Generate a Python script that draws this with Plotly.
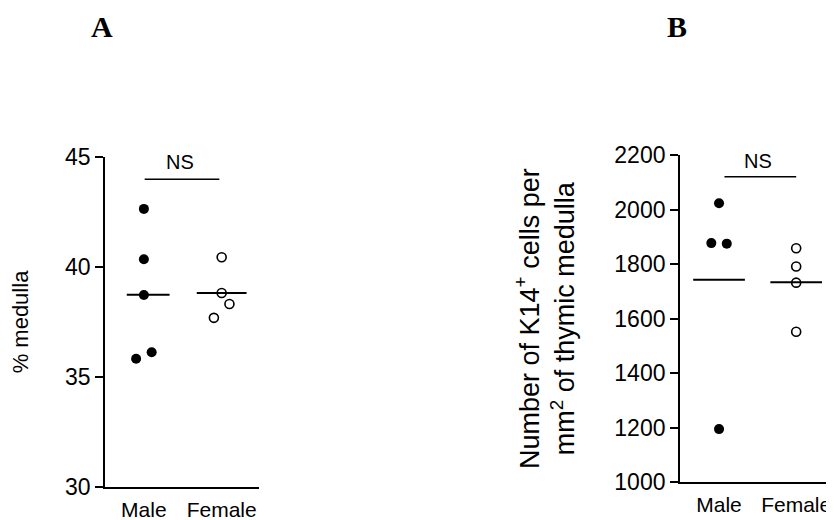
import numpy as np
import plotly.graph_objects as go

# ---------------- data ----------------
groups = ["Male", "Female"]
group_pos = [1, 2]

a_male = [42.65, 40.36, 38.73, 35.83, 36.12]
a_male_jitter = [0.0, 0.0, 0.0, -0.1, 0.1]
a_female = [40.45, 38.82, 38.32, 37.69]
a_female_jitter = [0.0, 0.0, 0.1, -0.1]

b_male = [2023, 1877, 1875, 1195]
b_male_jitter = [0.0, -0.1, 0.1, 0.0]
b_female = [1858, 1791, 1732, 1552]
b_female_jitter = [0.0, 0.0, 0.0, 0.0]

a_yticks = [30, 35, 40, 45]
b_yticks = [1000, 1200, 1400, 1600, 1800, 2000, 2200]

a_ns_y = 44.0
b_ns_y = 2120
sig_label = "NS"

# ---------------- layout helpers ----------------
# the page adds an 8px body margin; the figure fills the rest of the 834x520 window
OFF = 8
W, H = 834 - OFF, 520 - OFF

def fx(px):
    return (px - OFF) / W

def fy(py):
    return 1 - (py - OFF) / H

FONT = "Arial, Liberation Sans, sans-serif"
SERIF = "Liberation Serif, Times New Roman, serif"
fig = go.Figure()

def add_panel(fig, male, mj, female, fj, xa, ya, msize, mean_ext_m, mean_ext_f):
    fig.add_trace(go.Scatter(
        x=[group_pos[0] + j for j in mj], y=male, mode="markers",
        marker=dict(symbol="circle", size=msize, color="black", line=dict(width=0)),
        xaxis=xa, yaxis=ya, showlegend=False, hoverinfo="y"))
    fig.add_trace(go.Scatter(
        x=[group_pos[1] + j for j in fj], y=female, mode="markers",
        marker=dict(symbol="circle-open", size=msize - 1, color="black", line=dict(width=1.6)),
        xaxis=xa, yaxis=ya, showlegend=False, hoverinfo="y"))
    for pos, vals, ext in [(group_pos[0], male, mean_ext_m), (group_pos[1], female, mean_ext_f)]:
        m = float(np.mean(vals))
        fig.add_trace(go.Scatter(
            x=[pos + ext[0], pos + ext[1]], y=[m, m], mode="lines",
            line=dict(color="black", width=1.9),
            xaxis=xa, yaxis=ya, showlegend=False, hoverinfo="skip"))

add_panel(fig, a_male, a_male_jitter, a_female, a_female_jitter, "x", "y", 10,
          (-0.22, 0.33), (-0.32, 0.32))
add_panel(fig, b_male, b_male_jitter, b_female, b_female_jitter, "x2", "y2", 10,
          (-0.335, 0.335), (-0.335, 0.335))

# significance bars
fig.add_trace(go.Scatter(x=[1.01, 1.97], y=[a_ns_y, a_ns_y], mode="lines",
                         line=dict(color="black", width=1.5), xaxis="x", yaxis="y",
                         showlegend=False, hoverinfo="skip"))
fig.add_trace(go.Scatter(x=[1.07, 2.0], y=[b_ns_y, b_ns_y], mode="lines",
                         line=dict(color="black", width=1.5), xaxis="x2", yaxis="y2",
                         showlegend=False, hoverinfo="skip"))

axis_common = dict(showgrid=False, zeroline=False, showline=True, linecolor="black",
                   linewidth=1.8, mirror=False, automargin=False)

fig.update_layout(
    template="none",
    width=W, height=H,
    margin=dict(l=0, r=0, t=0, b=0, pad=0),
    paper_bgcolor="white", plot_bgcolor="white",
    font=dict(family=FONT, color="black"),
    showlegend=False,
    xaxis=dict(domain=[fx(105), fx(259)], range=[0.5, 2.48], tickvals=group_pos,
               ticktext=groups, ticks="", ticklabelstandoff=3, anchor="y",
               tickfont=dict(size=21, family=FONT), **axis_common),
    yaxis=dict(domain=[fy(486.7), fy(157.3)], range=[30, 45],
               tickvals=a_yticks, ticks="outside", ticklen=8, tickwidth=1.8, anchor="x",
               tickcolor="black", tickfont=dict(size=23, family=FONT),
               title=dict(text="% medulla", font=dict(size=22, family=FONT), standoff=30),
               **axis_common),
    xaxis2=dict(domain=[fx(680), 1.0], range=[0.494, 2.49], tickvals=group_pos,
                ticktext=groups, ticks="", ticklabelstandoff=3, anchor="y2",
                tickfont=dict(size=21, family=FONT), **axis_common),
    yaxis2=dict(domain=[fy(482.3), fy(155)], range=[1000, 2200],
                tickvals=b_yticks, ticks="outside", ticklen=8, tickwidth=1.8, anchor="x2",
                tickcolor="black", tickfont=dict(size=23, family=FONT),
                title=dict(text="Number of K14<sup>+</sup> cells per<br>mm<sup>2</sup> of thymic medulla",
                           font=dict(size=27, family=FONT), standoff=32),
                **axis_common),
)

# NS labels and panel letters
fig.add_annotation(x=1.46, y=44.8, xref="x", yref="y", text=sig_label, showarrow=False,
                   font=dict(size=20, family=FONT), xanchor="center", yanchor="middle")
fig.add_annotation(x=1.506, y=2179, xref="x2", yref="y2", text=sig_label, showarrow=False,
                   font=dict(size=20, family=FONT), xanchor="center", yanchor="middle")
fig.add_annotation(x=fx(101.7), y=1.0, xref="paper", yref="paper", text="<b>A</b>",
                   showarrow=False, font=dict(size=30, family=SERIF),
                   xanchor="center", yanchor="top")
fig.add_annotation(x=fx(676.7), y=1.0, xref="paper", yref="paper", text="<b>B</b>",
                   showarrow=False, font=dict(size=30, family=SERIF),
                   xanchor="center", yanchor="top")

fig.write_html("out.html")
